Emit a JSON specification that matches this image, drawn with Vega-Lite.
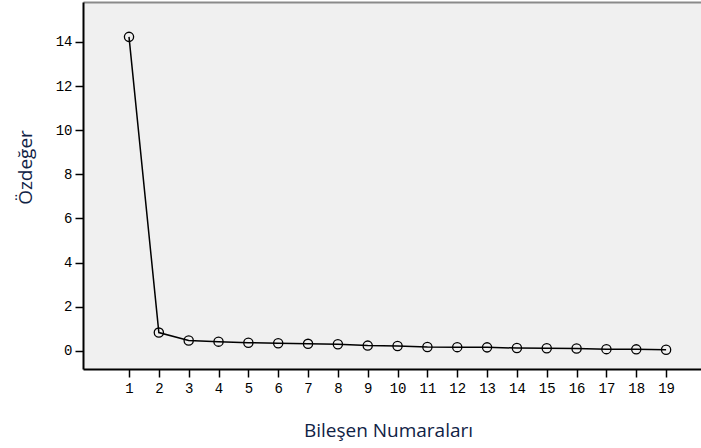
{
  "$schema": "https://vega.github.io/schema/vega-lite/v6.json",
  "autosize": "none",
  "width": 618,
  "height": 367,
  "padding": {"left": 83, "top": 2, "right": 0, "bottom": 79},
  "background": "white",
  "config": {
    "view": {"fill": "#f0f0f0", "stroke": null}
  },
  "data": {
    "values": [
      {"bilesen": 1, "ozdeger": 14.23},
      {"bilesen": 2, "ozdeger": 0.83},
      {"bilesen": 3, "ozdeger": 0.47},
      {"bilesen": 4, "ozdeger": 0.42},
      {"bilesen": 5, "ozdeger": 0.37},
      {"bilesen": 6, "ozdeger": 0.35},
      {"bilesen": 7, "ozdeger": 0.32},
      {"bilesen": 8, "ozdeger": 0.3},
      {"bilesen": 9, "ozdeger": 0.24},
      {"bilesen": 10, "ozdeger": 0.22},
      {"bilesen": 11, "ozdeger": 0.18},
      {"bilesen": 12, "ozdeger": 0.17},
      {"bilesen": 13, "ozdeger": 0.16},
      {"bilesen": 14, "ozdeger": 0.13},
      {"bilesen": 15, "ozdeger": 0.12},
      {"bilesen": 16, "ozdeger": 0.11},
      {"bilesen": 17, "ozdeger": 0.08},
      {"bilesen": 18, "ozdeger": 0.07},
      {"bilesen": 19, "ozdeger": 0.05}
    ]
  },
  "resolve": {"axis": {"x": "independent"}},
  "layer": [
    {
      "mark": {"type": "line", "color": "#000000", "strokeWidth": 1.5},
      "encoding": {
        "x": {
          "field": "bilesen",
          "type": "quantitative",
          "scale": {"domain": [-0.542, 20.17], "nice": false, "zero": false},
          "axis": {
            "title": "Bileşen Numaraları",
            "values": [1,2,3,4,5,6,7,8,9,10,11,12,13,14,15,16,17,18,19],
            "format": "d",
            "grid": false,
            "domainColor": "#000000",
            "domainWidth": 2,
            "tickColor": "#000000",
            "tickWidth": 1.5,
            "tickSize": 8,
            "labelFont": "Liberation Mono",
            "labelFontSize": 14,
            "labelColor": "#000000",
            "labelPadding": 4,
            "titleFont": "Open Sans",
            "titleFontSize": 19,
            "titleFontWeight": "normal",
            "titleColor": "#0f2245",
            "titleX": 305,
            "titleY": 61,
            "titleBaseline": "middle",
            "titleAlign": "center"
          }
        },
        "y": {
          "field": "ozdeger",
          "type": "quantitative",
          "scale": {"domain": [-0.82, 15.81], "nice": false, "zero": false},
          "axis": {
            "title": "Özdeğer",
            "values": [0, 2, 4, 6, 8, 10, 12, 14],
            "grid": false,
            "domainColor": "#000000",
            "domainWidth": 2,
            "tickColor": "#000000",
            "tickWidth": 1.5,
            "tickSize": 8,
            "labelFont": "Liberation Mono",
            "labelFontSize": 14,
            "labelColor": "#000000",
            "labelPadding": 3,
            "titleFont": "Open Sans",
            "titleFontSize": 19,
            "titleFontWeight": "normal",
            "titleColor": "#0f2245",
            "titleX": -58,
            "titleY": 165,
            "titleAngle": -90,
            "titleBaseline": "middle",
            "titleAlign": "center"
          }
        }
      }
    },
    {
      "mark": {"type": "point", "shape": "circle", "filled": false, "color": "#000000", "size": 85, "strokeWidth": 1.3, "opacity": 1},
      "encoding": {
        "x": {
          "field": "bilesen",
          "type": "quantitative",
          "axis": {
            "orient": "top",
            "title": null,
            "labels": false,
            "ticks": false,
            "grid": false,
            "domainColor": "#8a8a8a",
            "domainWidth": 2
          }
        },
        "y": {"field": "ozdeger", "type": "quantitative"}
      }
    }
  ]
}
